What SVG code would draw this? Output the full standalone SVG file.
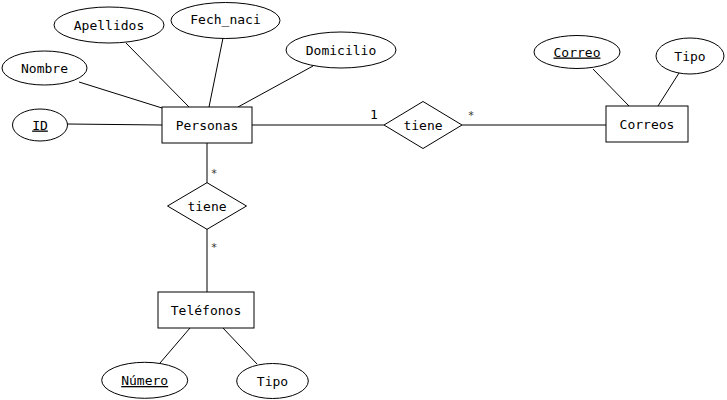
<svg xmlns="http://www.w3.org/2000/svg" width="727" height="400" viewBox="0 0 727 400">
<style>
.n{fill:#fff;stroke:#000;stroke-width:1}
.t{font-family:"DejaVu Sans Mono","Liberation Mono",monospace;font-size:13px;fill:#000;text-anchor:middle}
.s{font-size:11px;fill:#333}
.k{text-decoration:underline}
.c line{stroke:#000;stroke-width:1}
</style>
<rect width="727" height="400" fill="#fff"/>
<g class="c" id="connectors">
<line x1="67" y1="124" x2="162" y2="125"/>
<line x1="79" y1="82" x2="162" y2="108"/>
<line x1="126" y1="43" x2="189" y2="107"/>
<line x1="223" y1="38" x2="209" y2="107"/>
<line x1="313" y1="66" x2="238" y2="107"/>
<line x1="252" y1="125" x2="384" y2="125"/>
<line x1="462" y1="125" x2="606" y2="125"/>
<line x1="593" y1="69" x2="629" y2="106"/>
<line x1="679" y1="73" x2="658" y2="106"/>
<line x1="207" y1="143" x2="207" y2="183"/>
<line x1="207" y1="229" x2="207" y2="292"/>
<line x1="160" y1="363" x2="190" y2="328"/>
<line x1="257" y1="364" x2="223" y2="328"/>
<text class="t" x="374" y="119">1</text>
<text class="t s" x="471" y="119">*</text>
<text class="t s" x="214" y="177">*</text>
<text class="t s" x="214" y="251">*</text>
</g>
<g id="personas"><rect class="n" x="162" y="107" width="90" height="36"/><text class="t" x="207" y="130">Personas</text></g>
<g id="id"><ellipse class="n" cx="40" cy="125" rx="27.5" ry="16"/><text class="t k" x="40" y="129.5">ID</text></g>
<g id="nombre"><ellipse class="n" cx="44.5" cy="68" rx="42.5" ry="17"/><text class="t" x="44.5" y="72.5">Nombre</text></g>
<g id="apellidos"><ellipse class="n" cx="109" cy="25" rx="55" ry="18"/><text class="t" x="109" y="29.5">Apellidos</text></g>
<g id="fech_naci"><ellipse class="n" cx="225.5" cy="20.5" rx="54.5" ry="18"/><text class="t" x="225.5" y="24">Fech_naci</text></g>
<g id="domicilio"><ellipse class="n" cx="341" cy="50" rx="55" ry="18"/><text class="t" x="341" y="54.5">Domicilio</text></g>
<g id="tiene1"><polygon class="n" points="384,125 423,101.5 462,125 423,148.5"/><text class="t" x="423" y="129.5">tiene</text></g>
<g id="correos"><rect class="n" x="606" y="106" width="82" height="36"/><text class="t" x="647" y="129">Correos</text></g>
<g id="correo"><ellipse class="n" cx="577" cy="52" rx="43" ry="16.5"/><text class="t k" x="577" y="56.5">Correo</text></g>
<g id="tipo1"><ellipse class="n" cx="690" cy="56" rx="34" ry="18"/><text class="t" x="690" y="60.5">Tipo</text></g>
<g id="tiene2"><polygon class="n" points="167.5,206 207,182.7 246.5,206 207,229.3"/><text class="t" x="207" y="210.5">tiene</text></g>
<g id="telefonos"><rect class="n" x="158" y="292" width="96" height="36"/><text class="t" x="206" y="315">Teléfonos</text></g>
<g id="numero"><ellipse class="n" cx="144.7" cy="380.3" rx="43" ry="18"/><text class="t k" x="144.7" y="385">Número</text></g>
<g id="tipo2"><ellipse class="n" cx="272.5" cy="381" rx="35.8" ry="17.5"/><text class="t" x="272.5" y="385.5">Tipo</text></g>
</svg>
